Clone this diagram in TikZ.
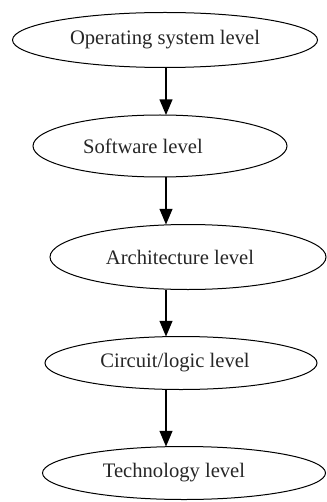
\documentclass[tikz,border=0pt]{standalone}
\usepackage{fontspec}
\setmainfont{Liberation Serif}
\usetikzlibrary{arrows, shapes.geometric, positioning}
\newcommand{\drawa}{\draw[line width=0.8pt,->]}
\newcommand{\lvlf}[1]{\fontsize{10.3}{12}\selectfont{#1}}

\begin{document}
\begin{tikzpicture}[>=triangle 45, x=0.5pt, y=-0.5pt,
  lvl/.style={ellipse, draw, line width=0.5pt, inner sep=0pt, outer sep=0pt},
  txt/.style={inner sep=0pt, text=black!85}]
\useasboundingbox (0,0) rectangle (326,502);
\coordinate (axis) at (166,0); % truc cua cac mui ten

% Cac muc
\node[lvl, minimum width=152.5pt, minimum height=27.5pt] (os) at (165,40) {};
\node[txt] (ostxt) at (165,40) {\lvlf{Operating system level}};
\node[lvl, minimum width=127pt, minimum height=31pt] (sw) at (160,146) {};
\node[txt] (swtxt) at (143,146) {\lvlf{Software level}};
\node[lvl, minimum width=138pt, minimum height=32.5pt] (arch) at (188,257) {};
\node[txt] (archtxt) at (180,257) {\lvlf{Architecture level}};
\node[lvl, minimum width=136pt, minimum height=26.5pt] (circ) at (181,363) {};
\node[txt] (circtxt) at (175,363) {\lvlf{Circuit/logic level}};
\node[lvl, minimum width=141.5pt, minimum height=26.5pt] (tech) at (184,473) {};
\node[txt] (techtxt) at (174,473) {\lvlf{Technology level}};

% Mui ten noi cac muc
\drawa (os.south -| axis) -- (sw.north -| axis);
\drawa (sw.south -| axis) -- (arch.north -| axis);
\drawa (arch.south -| axis) -- (circ.north -| axis);
\drawa (circ.south -| axis) -- (tech.north -| axis);
\end{tikzpicture}
\end{document}
